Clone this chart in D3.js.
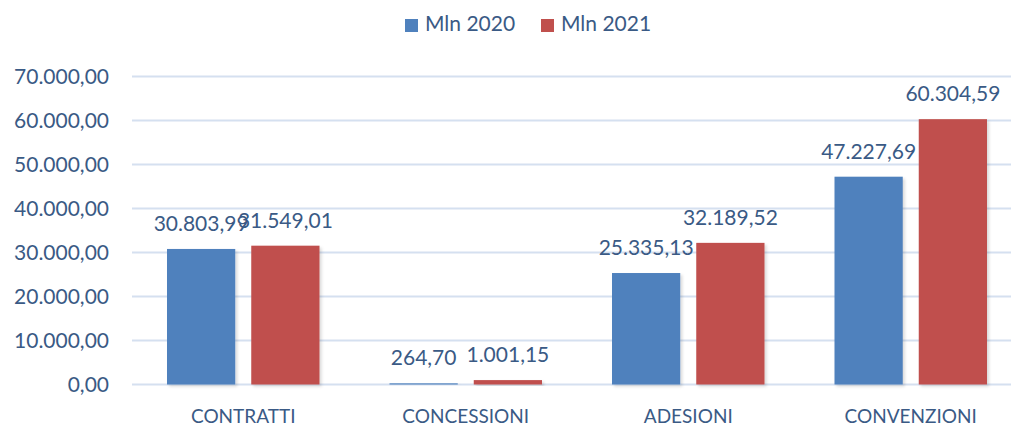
<!DOCTYPE html>
<html>
<head>
<meta charset="utf-8">
<script src="https://cdn.jsdelivr.net/npm/d3@7"></script>
<style>
  html, body { margin: 0; padding: 0; background: #fff; }
  svg { display: block; }
  text { font-family: Lato, "Liberation Sans", sans-serif; fill: #3a5a85; }
</style>
</head>
<body>
<svg width="1011" height="427"></svg>
<script>
// valori in milioni
var categories = ["CONTRATTI", "CONCESSIONI", "ADESIONI", "CONVENZIONI"];
var seriesNames = ["Mln 2020", "Mln 2021"];
var values2020 = [30803.99, 264.70, 25335.13, 47227.69];
var values2021 = [31549.01, 1001.15, 32189.52, 60304.59];
var yTicks = [0, 10000, 20000, 30000, 40000, 50000, 60000, 70000];
var colors = ["#4f81bd", "#c0504d"];

var data = categories.map(function (c, i) {
    return {name: c, values: [values2020[i], values2021[i]]};
});

var svg = d3.select("svg");

// formato italiano: 30.803,99
var it = d3.formatLocale({decimal: ",", thousands: ".", grouping: [3], currency: ["€", ""]});
var fmt = it.format(",.2f");

var x0 = d3.scaleBand()
    .domain(categories)
    .range([132, 1022])
    .padding(0);

var x1 = d3.scaleBand()
    .domain(seriesNames)
    .range([35, x0.bandwidth() - 35])
    .paddingInner(0.19);

var y = d3.scaleLinear()
    .domain([0, 70000])
    .range([384.5, 76.5]);

var defs = svg.append("defs");
var f = defs.append("filter").attr("id", "shadow")
    .attr("x", "-10%").attr("y", "-10%").attr("width", "130%").attr("height", "130%");
f.append("feDropShadow")
    .attr("dx", 2).attr("dy", 2).attr("stdDeviation", 1.5)
    .attr("flood-color", "#000").attr("flood-opacity", 0.15);

// griglia
svg.append("g")
    .selectAll("line")
    .data(yTicks)
    .enter().append("line")
    .attr("x1", 132)
    .attr("x2", 1022)
    .attr("y1", function (d) { return y(d); })
    .attr("y2", function (d) { return y(d); })
    .attr("stroke", "#d5e0f0")
    .attr("stroke-width", 2);

// asse y
var yAxis = svg.append("g")
    .attr("transform", "translate(109,0)")
    .call(d3.axisLeft(y).tickValues(yTicks).tickFormat(fmt).tickSize(0).tickPadding(0));
yAxis.select(".domain").remove();
yAxis.selectAll("text")
    .attr("fill", "#3a5a85")
    .style("font-size", "21px")
    .style("font-family", "Lato, 'Liberation Sans', sans-serif");

// asse x
var xAxis = svg.append("g")
    .attr("transform", "translate(0,384.5)")
    .call(d3.axisBottom(x0).tickSize(0).tickPadding(0));
xAxis.select(".domain").remove();
xAxis.selectAll("text")
    .attr("dy", 0)
    .attr("y", 38)
    .attr("fill", "#3a5a85")
    .style("font-size", "19px")
    .style("font-family", "Lato, 'Liberation Sans', sans-serif");

var groups = svg.append("g")
    .selectAll("g")
    .data(data)
    .enter().append("g")
    .attr("transform", function (d) { return "translate(" + x0(d.name) + ",0)"; });

var cells = groups.selectAll("g")
    .data(function (d) {
        return d.values.map(function (v, i) { return {key: seriesNames[i], value: v, i: i}; });
    })
    .enter().append("g");

cells.append("rect")
    .attr("x", function (d) { return x1(d.key); })
    .attr("y", function (d) { return y(d.value); })
    .attr("width", x1.bandwidth())
    .attr("height", function (d) { return y(0) - y(d.value); })
    .attr("fill", function (d) { return colors[d.i]; })
    .attr("filter", "url(#shadow)");

cells.append("text")
    .attr("x", function (d) { return x1(d.key) + x1.bandwidth() / 2; })
    .attr("y", function (d) { return y(d.value) - 18; })
    .attr("text-anchor", "middle")
    .style("font-size", "21px")
    .text(function (d) { return fmt(d.value); });

// legenda
var legend = svg.append("g")
    .selectAll("g")
    .data(seriesNames)
    .enter().append("g")
    .attr("transform", function (d, i) { return "translate(" + (405 + i * 136) + ",0)"; });

legend.append("rect")
    .attr("x", 0)
    .attr("y", 19)
    .attr("width", 13)
    .attr("height", 13)
    .attr("fill", function (d, i) { return colors[i]; });

legend.append("text")
    .attr("x", 20)
    .attr("y", 31)
    .style("font-size", "21px")
    .text(function (d) { return d; });
</script>
</body>
</html>
